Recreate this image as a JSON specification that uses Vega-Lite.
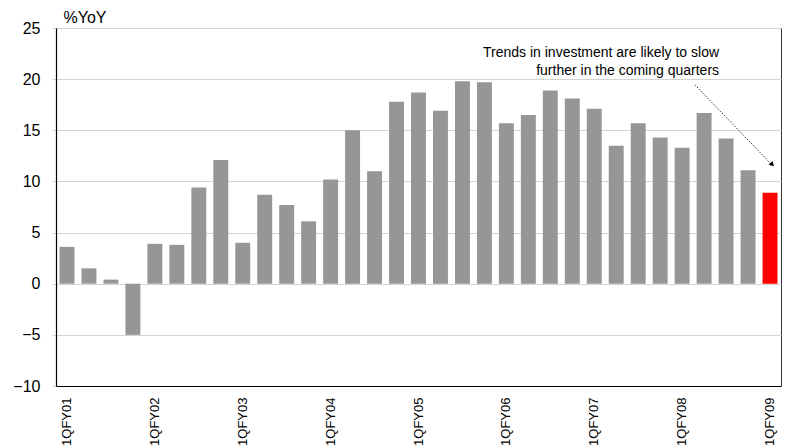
{
  "$schema": "https://vega.github.io/schema/vega-lite/v6.json",
  "width": 725,
  "height": 358,
  "autosize": {"type": "none"},
  "padding": {"left": 56, "top": 28, "right": 7, "bottom": 61},
  "config": {
    "font": "Liberation Sans",
    "view": {"stroke": "#333333", "strokeWidth": 1}
  },
  "datasets": {
    "growth": [
      {"quarter": "1QFY01", "yoy": 3.6},
      {"quarter": "2QFY01", "yoy": 1.5},
      {"quarter": "3QFY01", "yoy": 0.4},
      {"quarter": "4QFY01", "yoy": -5.0},
      {"quarter": "1QFY02", "yoy": 3.9},
      {"quarter": "2QFY02", "yoy": 3.8},
      {"quarter": "3QFY02", "yoy": 9.4},
      {"quarter": "4QFY02", "yoy": 12.1},
      {"quarter": "1QFY03", "yoy": 4.0},
      {"quarter": "2QFY03", "yoy": 8.7},
      {"quarter": "3QFY03", "yoy": 7.7},
      {"quarter": "4QFY03", "yoy": 6.1},
      {"quarter": "1QFY04", "yoy": 10.2},
      {"quarter": "2QFY04", "yoy": 15.0},
      {"quarter": "3QFY04", "yoy": 11.0},
      {"quarter": "4QFY04", "yoy": 17.8},
      {"quarter": "1QFY05", "yoy": 18.7},
      {"quarter": "2QFY05", "yoy": 16.9},
      {"quarter": "3QFY05", "yoy": 19.8},
      {"quarter": "4QFY05", "yoy": 19.7},
      {"quarter": "1QFY06", "yoy": 15.7},
      {"quarter": "2QFY06", "yoy": 16.5},
      {"quarter": "3QFY06", "yoy": 18.9},
      {"quarter": "4QFY06", "yoy": 18.1},
      {"quarter": "1QFY07", "yoy": 17.1},
      {"quarter": "2QFY07", "yoy": 13.5},
      {"quarter": "3QFY07", "yoy": 15.7},
      {"quarter": "4QFY07", "yoy": 14.3},
      {"quarter": "1QFY08", "yoy": 13.3},
      {"quarter": "2QFY08", "yoy": 16.7},
      {"quarter": "3QFY08", "yoy": 14.2},
      {"quarter": "4QFY08", "yoy": 11.1},
      {"quarter": "1QFY09", "yoy": 8.9}
    ],
    "note": [
      {"pos": 30.18, "yoy": 22.2, "text": ["Trends in investment are likely to slow", "further in the coming quarters"]}
    ],
    "arrow": [
      {"pos": 29.08, "yoy": 19.45},
      {"pos": 32.55, "yoy": 11.7}
    ],
    "tip": [
      {"pos": 32.6, "yoy": 11.65}
    ]
  },
  "layer": [
    {
      "data": {"name": "growth"},
      "mark": {"type": "bar"},
      "encoding": {
        "x": {
          "field": "quarter",
          "type": "nominal",
          "sort": null,
          "scale": {"paddingInner": 0.32, "paddingOuter": 0.16},
          "axis": {
            "title": null,
            "labelAngle": 270,
            "labelAlign": "right",
            "labelBaseline": "middle",
            "labelFontSize": 13,
            "labelColor": "#000000",
            "labelPadding": 11,
            "labelOverlap": false,
            "labelExpr": "indexof(datum.value, '1Q') === 0 ? datum.value : ''",
            "ticks": false,
            "domainColor": "#000000",
            "domainWidth": 1.2
          }
        },
        "y": {
          "field": "yoy",
          "type": "quantitative",
          "scale": {"domain": [-10, 25], "nice": false},
          "axis": {
            "values": [-10, -5, 0, 5, 10, 15, 20, 25],
            "grid": true,
            "gridColor": "#d4d4d4",
            "gridWidth": 1,
            "domainColor": "#000000",
            "domainWidth": 1.2,
            "tickColor": "#d4d4d4",
            "tickSize": 4,
            "labelFontSize": 16,
            "labelColor": "#000000",
            "labelPadding": 12,
            "title": "%YoY",
            "titleAngle": 0,
            "titleAlign": "left",
            "titleBaseline": "bottom",
            "titleX": 7,
            "titleY": -3,
            "titleFontSize": 16,
            "titleFontWeight": "normal",
            "titleColor": "#000000"
          }
        },
        "color": {
          "condition": {"test": "datum.quarter === '1QFY09'", "value": "#ff0000"},
          "value": "#969696"
        }
      }
    },
    {
      "mark": {"type": "rule", "color": "#000000", "strokeWidth": 1.2},
      "encoding": {"y": {"datum": 0}}
    },
    {
      "data": {"name": "arrow"},
      "mark": {"type": "line", "color": "#333333", "strokeWidth": 1, "strokeDash": [1.5, 1.5]},
      "encoding": {
        "x": {"field": "pos", "type": "quantitative", "scale": {"domain": [0, 33], "nice": false, "zero": false}, "axis": null},
        "y": {"field": "yoy", "type": "quantitative"}
      }
    },
    {
      "data": {"name": "tip"},
      "mark": {"type": "point", "shape": "triangle-right", "filled": true, "color": "#000000", "size": 30, "angle": 46, "opacity": 1},
      "encoding": {
        "x": {"field": "pos", "type": "quantitative", "scale": {"domain": [0, 33], "nice": false, "zero": false}, "axis": null},
        "y": {"field": "yoy", "type": "quantitative"}
      }
    },
    {
      "data": {"name": "note"},
      "mark": {"type": "text", "align": "right", "baseline": "alphabetic", "fontSize": 14, "lineHeight": 18, "color": "#000000"},
      "encoding": {
        "x": {"field": "pos", "type": "quantitative", "scale": {"domain": [0, 33], "nice": false, "zero": false}, "axis": null},
        "y": {"field": "yoy", "type": "quantitative"},
        "text": {"field": "text"}
      }
    }
  ],
  "resolve": {"scale": {"x": "independent"}}
}
